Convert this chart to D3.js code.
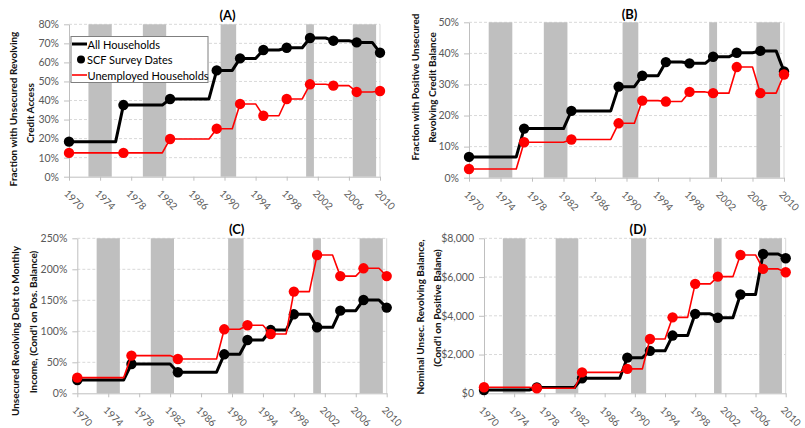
<!DOCTYPE html>
<html>
<head>
<meta charset="utf-8">
<script src="https://cdn.jsdelivr.net/npm/d3@7"></script>
<style>
  body { margin: 0; background: #fff; }
  svg { display: block; font-family: Lato, "Open Sans", sans-serif; }
</style>
</head>
<body>
<svg id="chart" width="805" height="428"></svg>
<script>
// SCF survey years and NBER recession years
const surveyYears = [1970, 1977, 1983, 1989, 1992, 1995, 1998, 2001, 2004, 2007, 2010];
const recessionYears = [1973, 1974, 1975, 1980, 1981, 1982, 1990, 1991, 2001, 2007, 2008, 2009];
const yearTicks = [1970, 1974, 1978, 1982, 1986, 1990, 1994, 1998, 2002, 2006, 2010];

// (A) fraction with unsecured revolving credit access, %
const accessAll   = [18.4, 37.6, 40.8, 55.8, 62.1, 66.5, 67.7, 72.8, 71.4, 70.5, 65.1];
const accessUnemp = [12.5, 12.5, 19.8, 25.2, 38.2, 32.0, 40.8, 48.5, 47.8, 44.5, 45.0];
const accessTicks = [0, 10, 20, 30, 40, 50, 60, 70, 80];

// (B) fraction with positive unsecured revolving balance, %
const balanceAll   = [6.7, 15.8, 21.5, 29.3, 32.8, 37.2, 36.8, 38.9, 40.2, 40.8, 34.2];
const balanceUnemp = [2.8, 11.4, 12.3, 17.5, 24.8, 24.5, 27.6, 27.2, 35.6, 27.2, 33.2];
const balanceTicks = [0, 10, 20, 30, 40, 50];

// (C) unsecured revolving debt to monthly income, %
const debtIncomeAll   = [21.5, 47.3, 33.9, 62.9, 86.0, 102.0, 127.4, 106.5, 133.3, 150.5, 138.2];
const debtIncomeUnemp = [25.3, 60.8, 55.4, 103.2, 109.7, 95.7, 164.0, 223.0, 189.0, 201.6, 189.0];
const debtIncomeTicks = [0, 50, 100, 150, 200, 250];

// (D) nominal unsecured revolving balance, $
const nominalAll   = [170, 300, 775, 1840, 2190, 2980, 4100, 3900, 5100, 7190, 6970];
const nominalUnemp = [310, 260, 1080, 1260, 2800, 3920, 5650, 6020, 7140, 6420, 6250];
const nominalTicks = [0, 2000, 4000, 6000, 8000];

const legendLabels = ["All Households", "SCF Survey Dates", "Unemployed Households"];

const svg = d3.select("#chart");
const pct = d => d + "%";
const dollars = d => "$" + d3.format(",")(d);

// Value holds until the year before the next survey, then moves to the new value
function stepPoints(values) {
  const pts = [];
  surveyYears.forEach((yr, i) => {
    pts.push([yr, values[i]]);
    if (i < surveyYears.length - 1) pts.push([surveyYears[i + 1] - 1, values[i]]);
  });
  return pts;
}

// Group consecutive recession years into continuous bands
function recessionBands(years) {
  const bands = [];
  years.forEach(yr => {
    const last = bands[bands.length - 1];
    if (last && yr === last.end + 1) last.end = yr;
    else bands.push({ start: yr, end: yr });
  });
  return bands;
}

function drawPanel(cfg) {
  const x = d3.scaleLinear().domain([1970, 2010]).range([cfg.left, cfg.right]);
  const y = d3.scaleLinear().domain([0, cfg.ticks[cfg.ticks.length - 1]]).range([cfg.bottom, cfg.top]);
  const g = svg.append("g");

  // dashed horizontal gridlines
  g.selectAll("line.grid").data(cfg.ticks.slice(1)).join("line")
    .attr("x1", cfg.left).attr("x2", cfg.right)
    .attr("y1", d => y(d)).attr("y2", d => y(d))
    .attr("stroke", "#d9d9d9").attr("stroke-width", 1).attr("stroke-dasharray", "3,2");

  // recession shading
  g.selectAll("rect.rec").data(recessionBands(recessionYears)).join("rect")
    .attr("x", d => x(d.start - 0.5)).attr("width", d => x(d.end + 0.5) - x(d.start - 0.5))
    .attr("y", cfg.top).attr("height", cfg.bottom - cfg.top)
    .attr("fill", "#bfbfbf");

  // right frame line
  g.append("line")
    .attr("x1", cfg.right).attr("x2", cfg.right).attr("y1", cfg.top).attr("y2", cfg.bottom)
    .attr("stroke", "#d9d9d9");

  // y axis
  const ya = g.append("g").attr("transform", `translate(${cfg.left},0)`)
    .call(d3.axisLeft(y).tickValues(cfg.ticks).tickFormat(cfg.fmt).tickSize(5).tickSizeOuter(0).tickPadding(5));
  ya.select(".domain").attr("stroke", "#bfbfbf");
  ya.selectAll(".tick line").attr("stroke", "#bfbfbf");
  ya.selectAll(".tick text").attr("fill", "#595959").style("font-size", "10.5px").style("font-family", "Lato, sans-serif");

  // x axis with slanted year labels
  const xa = g.append("g").attr("transform", `translate(0,${cfg.bottom})`)
    .call(d3.axisBottom(x).tickValues(yearTicks).tickFormat(d3.format("d")).tickSize(4).tickSizeOuter(0));
  xa.select(".domain").attr("stroke", "#bfbfbf");
  xa.selectAll(".tick line").attr("stroke", "#bfbfbf");
  xa.selectAll(".tick text")
    .attr("x", 0).attr("y", 0).attr("dy", 0)
    .attr("text-anchor", "start")
    .attr("transform", "translate(-6,17.5) rotate(45)")
    .attr("fill", "#595959").style("font-size", "10px").style("font-family", "Lato, sans-serif");

  // series: all households (black, thick), unemployed (red, thin)
  const line = d3.line().x(d => x(d[0])).y(d => y(d[1]));
  const series = [
    { values: cfg.all, color: "#000000", width: 3 },
    { values: cfg.unemp, color: "#ff0000", width: 1.6 }
  ];
  series.forEach(s => {
    g.append("path").datum(stepPoints(s.values))
      .attr("d", line).attr("fill", "none")
      .attr("stroke", s.color).attr("stroke-width", s.width).attr("stroke-linejoin", "round");
    g.selectAll(null).data(s.values).join("circle")
      .attr("cx", (d, i) => x(surveyYears[i])).attr("cy", d => y(d))
      .attr("r", 5.2).attr("fill", s.color);
  });

  // panel title
  g.append("text").attr("x", cfg.titleX).attr("y", cfg.titleY)
    .attr("text-anchor", "middle").attr("dominant-baseline", "central")
    .style("font-weight", "bold").style("font-size", "13px").text(cfg.title);

  // two-line rotated y-axis title
  cfg.yTitle.forEach(t => {
    g.append("text")
      .attr("transform", `translate(${t.x},${t.y}) rotate(-90)`)
      .attr("text-anchor", "middle").attr("dominant-baseline", "central")
      .style("font-weight", "bold").style("font-size", "10px").attr("fill", "#111")
      .text(t.text);
  });
  return { x, y, g };
}

const panelA = drawPanel({
  left: 69, right: 380, top: 24.3, bottom: 176.7,
  ticks: accessTicks, fmt: pct, all: accessAll, unemp: accessUnemp,
  title: "(A)", titleX: 227.5, titleY: 15,
  yTitle: [
    { text: "Fraction with Unsecured Revolving", x: 13, y: 109 },
    { text: "Credit Access", x: 29.5, y: 113 }
  ]
});

drawPanel({
  left: 469, right: 784, top: 22.3, bottom: 177.7,
  ticks: balanceTicks, fmt: pct, all: balanceAll, unemp: balanceUnemp,
  title: "(B)", titleX: 629.5, titleY: 14,
  yTitle: [
    { text: "Fraction with Positive Unsecured", x: 415, y: 87 },
    { text: "Revolving Credit Balance", x: 431.5, y: 87.5 }
  ]
});

drawPanel({
  left: 77.3, right: 386.7, top: 238.3, bottom: 393.3,
  ticks: debtIncomeTicks, fmt: pct, all: debtIncomeAll, unemp: debtIncomeUnemp,
  title: "(C)", titleX: 236.7, titleY: 229,
  yTitle: [
    { text: "Unsecured Revolving Debt to Monthly", x: 15, y: 331 },
    { text: "Income, (Cond'l on Pos. Balance)", x: 33, y: 322 }
  ]
});

drawPanel({
  left: 484, right: 785.7, top: 238.3, bottom: 393.3,
  ticks: nominalTicks, fmt: dollars, all: nominalAll, unemp: nominalUnemp,
  title: "(D)", titleX: 638, titleY: 229,
  yTitle: [
    { text: "Nominal Unsec. Revolving Balance,", x: 420, y: 317 },
    { text: "(Cond'l on Positive Balane)", x: 437, y: 308 }
  ]
});

// legend inside panel A
const lg = panelA.g.append("g");
lg.append("rect").attr("x", 71).attr("y", 36.5).attr("width", 137).attr("height", 46)
  .attr("fill", "#fff").attr("stroke", "#7f7f7f").attr("stroke-width", 1);
const rows = [44, 59.5, 75];
lg.append("line").attr("x1", 72).attr("x2", 87).attr("y1", rows[0]).attr("y2", rows[0])
  .attr("stroke", "#000").attr("stroke-width", 3);
lg.append("circle").attr("cx", 81).attr("cy", rows[1]).attr("r", 4).attr("fill", "#000");
lg.append("line").attr("x1", 72).attr("x2", 87).attr("y1", rows[2]).attr("y2", rows[2])
  .attr("stroke", "#ff0000").attr("stroke-width", 1.6);
lg.selectAll("text").data(legendLabels).join("text")
  .attr("x", (d, i) => i === 1 ? 87 : 87.5).attr("y", (d, i) => rows[i])
  .attr("dominant-baseline", "central").style("font-size", "11px").attr("fill", "#000")
  .text(d => d);
</script>
</body>
</html>
